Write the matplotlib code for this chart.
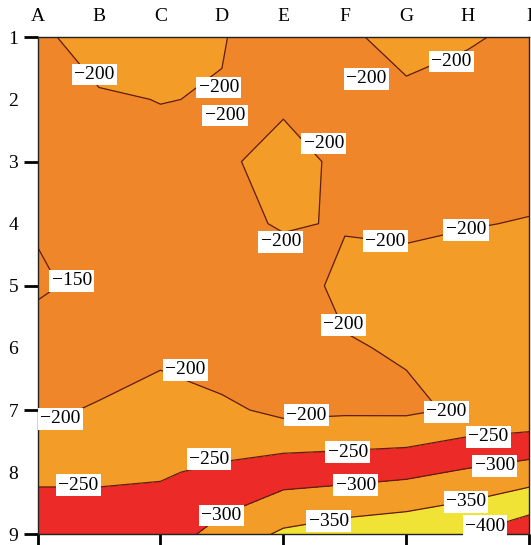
import numpy as np
import matplotlib
matplotlib.use("Agg")
import matplotlib.pyplot as plt

plt.rcParams['font.family'] = ['Liberation Serif', 'DejaVu Serif']

# ---- data ----
columns = ["A", "B", "C", "D", "E", "F", "G", "H", "I"]
rows = [1, 2, 3, 4, 5, 6, 7, 8, 9]

row1 = [-190, -221, -225, -202, -180, -185, -230, -205, -189]
row2 = [-180, -195, -201, -198, -193, -185, -182, -180, -185]
row3 = [-170, -180, -188, -193, -215, -191, -185, -185, -185]
row4 = [-156, -172, -180, -188, -204, -197, -193, -198, -202]
row5 = [-140, -169, -175, -180, -176, -212, -215, -220, -215]
row6 = [-183, -189, -186, -170, -180, -196, -205, -218, -215]
row7 = [-196, -202, -225, -210, -188, -192, -191, -208, -211]
row8 = [-240, -240, -246, -258, -277, -281, -289, -306, -323]
row9 = [-282, -282, -273, -319, -358, -375, -385, -401, -435]

fill_levels = [-500, -400, -350, -300, -250, -200, -150, -100]
line_levels = [-400, -350, -300, -250, -200, -150]
fill_colors = ["#EC2A27", "#F1E335", "#F49C28", "#EC2A27", "#F49C28", "#F0862A", "#F0862A"]

label_levels = [-200, -200, -200, -200, -200, -200, -200, -200, -200, -150,
                -200, -200, -200, -200, -200, -250, -250, -250, -250,
                -300, -300, -300, -350, -350, -400]
label_x = [0.92, 2.95, 3.05, 4.66, 5.35, 6.73, 3.96, 5.66, 6.97, 0.56,
           4.97, 2.40, 0.37, 4.37, 6.65, 0.66, 2.79, 5.05, 7.33,
           2.99, 5.18, 7.44, 4.74, 6.97, 7.28]
label_y = [1.60, 1.81, 2.26, 2.71, 1.67, 1.39, 4.29, 4.28, 4.10, 4.92,
           5.63, 6.35, 7.14, 7.08, 7.03, 8.21, 7.79, 7.68, 7.43,
           8.70, 8.21, 7.90, 8.79, 8.48, 8.87]

Z = np.array([row1, row2, row3, row4, row5, row6, row7, row8, row9], dtype=float)
X = np.arange(len(columns))
Y = np.array(rows, dtype=float)

fig = plt.figure(figsize=(5.31, 5.45), dpi=100)
ax = fig.add_axes([37.5 / 531, 1 - 534.3 / 545, (529.3 - 37.5) / 531, (534.3 - 37.3) / 545])

ax.contourf(X, Y, Z, levels=fill_levels, colors=fill_colors)
ax.contour(X, Y, Z, levels=line_levels, colors="#5E1E10", linewidths=0.9,
           linestyles="solid")

for lv, lx, ly in zip(label_levels, label_x, label_y):
    ax.text(lx, ly, "\u2212" + str(abs(lv)), ha="center", va="center", fontsize=14,
            bbox=dict(boxstyle="square,pad=0.12", fc="white", ec="none"), zorder=5)

ax.set_xlim(0, 8)
ax.set_ylim(9, 1)

# top labels A..I, no marks
ax.xaxis.set_ticks_position("top")
ax.set_xticks(X)
ax.set_xticklabels(columns, fontsize=14)
ax.tick_params(axis="x", which="major", length=0, pad=9, top=True, bottom=False)
# bottom tick marks every two columns
sec = ax.secondary_xaxis("bottom")
sec.set_xticks(X[::2])
sec.set_xticklabels([])
sec.tick_params(length=10, width=2)
sec.spines["bottom"].set_visible(False)

ax.set_yticks(Y)
ax.set_yticklabels([str(r) for r in rows], fontsize=14)
ax.tick_params(axis="y", length=10, width=2, pad=4)
for i, t in enumerate(ax.yaxis.get_major_ticks()):
    if i % 2 == 1:
        t.tick1line.set_visible(False)

for s in ax.spines.values():
    s.set_linewidth(1.0)
    s.set_color("#222222")

fig.savefig("out.png", dpi=100)
